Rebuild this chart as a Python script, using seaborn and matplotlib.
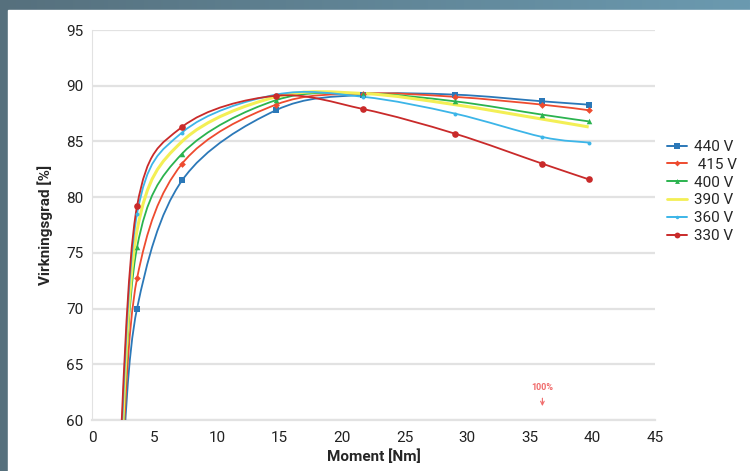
import numpy as np
import pandas as pd
import seaborn as sns
import matplotlib.pyplot as plt
from matplotlib.path import Path
from matplotlib.patches import PathPatch, Rectangle
from matplotlib.lines import Line2D

# moment points (Nm) where the markers sit
moment = [3.6, 7.2, 14.7, 21.7, 29.0, 36.0, 39.7]

# first measured point, under the 60 % edge (clipped)
start_x = [2.45, 2.4, 2.35, 2.3, 2.25, 2.2]
start_y = [56.0, 56.0, 56.0, 56.0, 56.0, 56.0]

eff_440 = [70.0, 81.5, 87.8, 89.2, 89.2, 88.6, 88.3]
eff_415 = [72.7, 83.0, 88.3, 89.3, 89.0, 88.3, 87.8]
eff_400 = [75.5, 83.9, 88.7, 89.3, 88.6, 87.4, 86.8]
eff_390 = [77.0, 85.0, 89.0, 89.3, 88.3, 87.0, 86.3]
eff_360 = [78.5, 85.8, 89.2, 89.0, 87.5, 85.4, 84.9]
eff_330 = [79.2, 86.3, 89.1, 87.9, 85.7, 83.0, 81.6]

labels = ["440 V", " 415 V", "400 V", "390 V", "360 V", "330 V"]
series = [eff_440, eff_415, eff_400, eff_390, eff_360, eff_330]
colors = ["#2b78b8", "#ee4b2f", "#2bb34f", "#f3ef55", "#3cb5e8", "#c92a2a"]
markers = ["s", "D", "^", None, "o", "o"]
msizes = [4, 3, 3.5, 0, 2.5, 4.2]

rows = []
for lab, sx, sy, vals in zip(labels, start_x, start_y, series):
    rows.append({"serie": lab, "moment": sx, "eff": sy})
    for m, v in zip(moment, vals):
        rows.append({"serie": lab, "moment": m, "eff": v})
df = pd.DataFrame(rows)

sns.set_style("white")
plt.rcParams["font.family"] = ["Roboto", "DejaVu Sans"]

fig = plt.figure(figsize=(7.5, 4.71), dpi=100)

# blue-grey frame behind the white panel
bg = fig.add_axes([0, 0, 1, 1], zorder=-2)
grad = np.linspace(0, 1, 256).reshape(1, -1)
bg.imshow(grad, aspect="auto", cmap=plt.matplotlib.colors.LinearSegmentedColormap.from_list(
    "frame", ["#56707d", "#6b9ab0"]), extent=[0, 1, 0, 1])
bg.add_patch(Rectangle((8 / 750, 0), 1, 1 - 10 / 471, color="white"))
bg.set_xlim(0, 1)
bg.set_ylim(0, 1)
bg.axis("off")

ax = fig.add_axes([92 / 750, 1 - 420 / 471, 563 / 750, 390 / 471])
ax.set_facecolor("none")


def smooth_path(xs, ys):
    # catmull-rom -> bezier, like the spreadsheet smoothed lines
    pts = np.column_stack([xs, ys])
    p = np.vstack([pts[0], pts, pts[-1]])
    verts = [pts[0]]
    codes = [Path.MOVETO]
    for i in range(1, len(p) - 2):
        c1 = p[i] + (p[i + 1] - p[i - 1]) / 6
        c2 = p[i + 1] - (p[i + 2] - p[i]) / 6
        verts += [c1, c2, p[i + 1]]
        codes += [Path.CURVE4] * 3
    return Path(verts, codes)


for lab, col, mk, ms in zip(labels, colors, markers, msizes):
    d = df[df["serie"] == lab]
    lw = 2.2 if lab == "390 V" else 1.3
    ax.add_patch(PathPatch(smooth_path(d["moment"].values, d["eff"].values),
                           facecolor="none", edgecolor=col, lw=lw, zorder=3))
    if mk is not None:
        sns.scatterplot(data=d, x="moment", y="eff", color=col, marker=mk,
                        s=ms ** 2 * 1.3, edgecolor=col, linewidth=0, ax=ax,
                        zorder=4, legend=False)

ax.set_xlim(0, 45)
ax.set_ylim(60, 95)
ax.set_xticks(np.arange(0, 46, 5))
ax.set_yticks(np.arange(60, 96, 5))
ax.yaxis.grid(True, color="#e2e2e2", lw=1.6)
ax.xaxis.grid(False)
for s in ["top", "right"]:
    ax.spines[s].set_visible(False)
ax.spines["left"].set_color("#e2e2e2")
ax.spines["bottom"].set_color("#e2e2e2")
ax.spines["bottom"].set_linewidth(1.6)
ax.tick_params(axis="both", labelsize=11, colors="#222222", length=0)
ax.tick_params(axis="x", pad=8)
ax.tick_params(axis="y", length=3, color="#e2e2e2", pad=3)

ax.set_xlabel("Moment [Nm]", fontsize=11, fontweight="bold", labelpad=3)
ax.set_ylabel("Virkningsgrad [%]", fontsize=11, fontweight="bold", labelpad=10)

ax.annotate("100%", xy=(36, 61.0), xytext=(36, 62.5), ha="center", va="bottom",
            fontsize=6.5, color="#f06a6a", fontweight="bold",
            arrowprops=dict(arrowstyle="->", color="#f06a6a", lw=0.8))

handles = []
for lab, col, mk, ms in zip(labels, colors, markers, msizes):
    handles.append(Line2D([0], [0], color=col, lw=2 if mk is None else 1.4,
                          marker=mk, markersize=ms, markeredgewidth=0))
ax.legend(handles, labels, loc="center left", bbox_to_anchor=(1.01, 0.586),
          frameon=False, fontsize=11, handlelength=1.3, handletextpad=0.5,
          labelspacing=0.25, borderaxespad=0)

plt.savefig("out.png", dpi=100)
